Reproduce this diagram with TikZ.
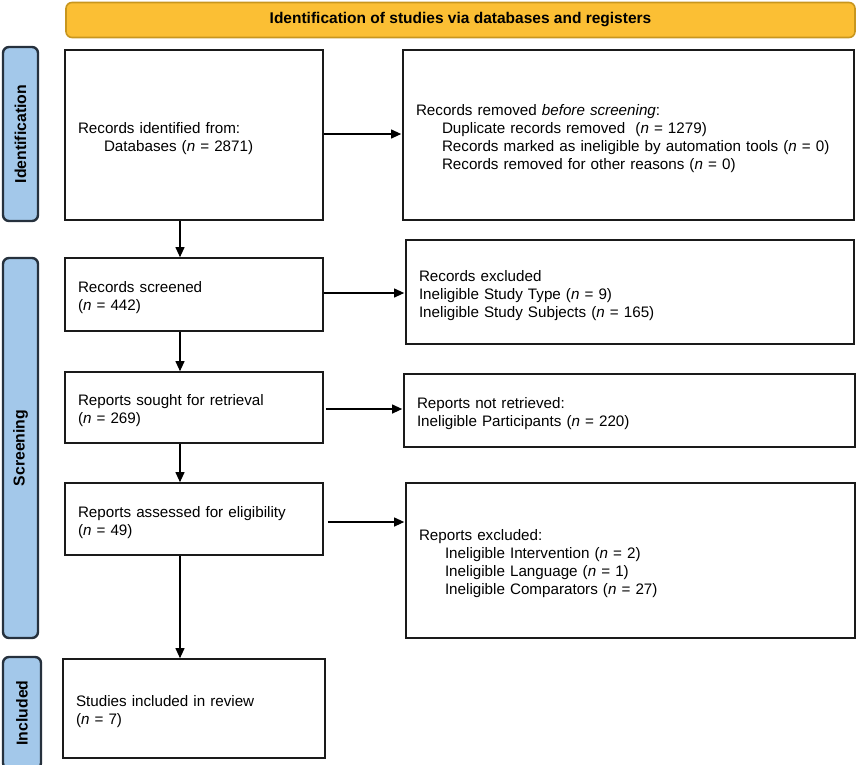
\documentclass[tikz,border=0pt]{standalone}
\usepackage{fontspec}
\setmainfont{Liberation Sans}
\usetikzlibrary{arrows.meta,calc}
\definecolor{bannerfill}{HTML}{FBBF34}
\definecolor{bannerline}{HTML}{C8961E}
\definecolor{sidefill}{HTML}{A3C8EA}
\definecolor{sideline}{HTML}{26313D}
\definecolor{boxline}{HTML}{1A1A1A}
\newcommand{\ind}{\hspace*{26pt}}
\begin{document}
\begin{tikzpicture}[x=1pt,y=-1pt,
  box/.style={draw=boxline,line width=1.7pt,rectangle,inner xsep=13pt,inner ysep=0pt,align=left,font=\fontsize{15.2}{18}\selectfont,execute at begin node={\rule{0pt}{17.5pt}}},
  side/.style={draw=sideline,fill=sidefill,line width=2.4pt,rounded corners=6pt,rotate=90,inner sep=0pt,font=\bfseries\fontsize{15.8}{17}\selectfont},
  arr/.style={draw=black,line width=1.1pt,-{Triangle[length=10pt,width=9pt]}}
]
\useasboundingbox (0,0) rectangle (858,764);
\coordinate (ax) at (180,0);
% banner
\node[draw=bannerline,fill=bannerfill,line width=1.6pt,rounded corners=6pt,minimum width=789pt,minimum height=35pt,inner sep=0pt,font=\bfseries\fontsize{15.5}{17}\selectfont] (banner) at (460.5,20) {Identification of studies via databases and registers};
% side labels
\node[side,minimum width=174pt,minimum height=35pt] (sid) at (20.5,134) {Identification};
\node[side,minimum width=380pt,minimum height=35pt] (ssc) at (20.5,448) {Screening};
\node[side,minimum width=112pt,minimum height=38pt] (sin) at (22,713) {Included};
% left column
\node[box,text width=232pt,minimum height=170pt] (b1) at (194,135) {Records identified from:\\\ind Databases (\textit{n} = 2871)};
\node[box,text width=232pt,minimum height=73pt] (scr) at (194,294.5) {Records screened\\(\textit{n} = 442)};
\node[box,text width=232pt,minimum height=71pt] (sou) at (194,407.5) {Reports sought for retrieval\\(\textit{n} = 269)};
\node[box,text width=232pt,minimum height=72pt] (ass) at (194,519) {Reports assessed for eligibility\\(\textit{n} = 49)};
\node[box,text width=236pt,minimum height=99pt] (inc) at (194,708.5) {Studies included in review\\(\textit{n} = 7)};
% right column
\node[box,text width=425pt,minimum height=170pt] (rem) at (628.5,135) {Records removed \textit{before screening}:\\\ind Duplicate records removed\ \ (\textit{n} = 1279)\\\ind Records marked as ineligible by automation tools (\textit{n} = 0)\\\ind Records removed for other reasons (\textit{n} = 0)};
\node[box,text width=422pt,minimum height=104pt] (exc) at (630,292) {Records excluded\\Ineligible Study Type (\textit{n} = 9)\\Ineligible Study Subjects (\textit{n} = 165)};
\node[box,text width=425pt,minimum height=73pt] (ret) at (629.5,410.5) {Reports not retrieved:\\Ineligible Participants (\textit{n} = 220)};
\node[box,text width=423pt,minimum height=155pt] (exr) at (630.5,560.5) {Reports excluded:\\\ind Ineligible Intervention (\textit{n} = 2)\\\ind Ineligible Language (\textit{n} = 1)\\\ind Ineligible Comparators (\textit{n} = 27)};
% vertical arrows
\draw[arr] (b1.south -| ax) -- (scr.north -| ax);
\draw[arr] (scr.south -| ax) -- (sou.north -| ax);
\draw[arr] (sou.south -| ax) -- (ass.north -| ax);
\draw[arr] (ass.south -| ax) -- (inc.north -| ax);
% horizontal arrows
\draw[arr] ($(b1.east)+(0,-1)$) -- ($(rem.west)+(-1,-1)$);
\draw[arr] ($(scr.east)+(0,-1.5)$) -- ($(scr.east -| exc.west)+(-1,-1.5)$);
\draw[arr] ($(sou.east)+(2,1.5)$) -- ($(sou.east -| ret.west)+(-1,1.5)$);
\draw[arr] ($(ass.east)+(4,3)$) -- ($(ass.east -| exr.west)+(-1,3)$);
\end{tikzpicture}
\end{document}
